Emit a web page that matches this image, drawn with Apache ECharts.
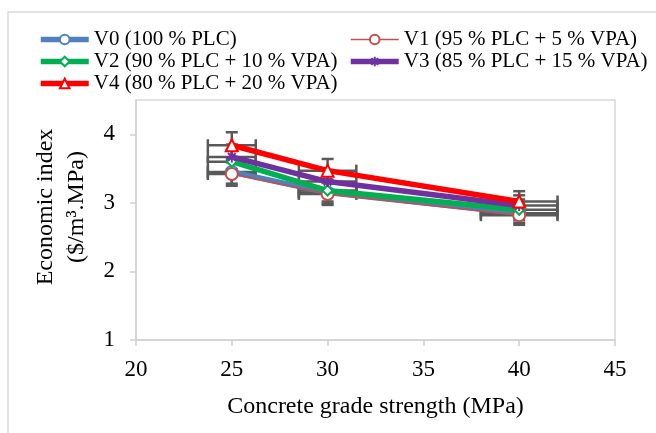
<!DOCTYPE html>
<html style="height: 100%">
<head>
    <meta charset="utf-8">
    <title>Economic index</title>
</head>
<body style="height: 100%; margin: 0; background: #fff">
    <div id="container" style="width: 656px; height: 433px"></div>
    <script src="https://cdn.jsdelivr.net/npm/echarts@6/dist/echarts.min.js"></script>
    <script type="text/javascript">
        // concrete grades (MPa) and their horizontal error
        var grades = [25, 30, 40];
        var gradeErr = [1.25, 1.5, 2];

        var names = [
            'V0 (100 % PLC)',
            'V1 (95 % PLC + 5 % VPA)',
            'V2 (90 % PLC + 10 % VPA)',
            'V3 (85 % PLC + 15 % VPA)',
            'V4 (80 % PLC + 20 % VPA)'
        ];

        // economic index ($/m3.MPa)
        var v0 = [3.45, 3.15, 2.85];
        var v1 = [3.42, 3.13, 2.82];
        var v2 = [3.60, 3.18, 2.90];
        var v3 = [3.67, 3.31, 2.96];
        var v4 = [3.84, 3.47, 3.02];

        // vertical error bars
        var v0Err = [0.17, 0.16, 0.14];
        var v1Err = [0.17, 0.16, 0.14];
        var v2Err = [0.18, 0.16, 0.15];
        var v3Err = [0.18, 0.17, 0.15];
        var v4Err = [0.19, 0.17, 0.15];

        var yTicks = [1, 2, 3, 4];

        var values = [v0, v1, v2, v3, v4];
        var errs = [v0Err, v1Err, v2Err, v3Err, v4Err];
        var colors = ['#4F81BD', '#C0504D', '#00B050', '#7030A0', '#FF0000'];
        var widths = [5.5, 1.5, 5.5, 5.5, 5.5];
        var symbols = ['emptyCircle', 'emptyCircle', 'emptyDiamond',
            'path://M0,5L10,5M5,0L5,10M1.5,1.5L8.5,8.5M8.5,1.5L1.5,8.5', 'emptyTriangle'];
        var sizes = [12, 12, 10, 11, 12];

        var font = '"Liberation Serif", "Times New Roman", serif';

        function renderErr(params, api) {
            var x = api.value(0), y = api.value(1), ex = api.value(2), ey = api.value(3);
            var l = api.coord([x - ex, y]), r = api.coord([x + ex, y]);
            var t = api.coord([x, y + ey]), b = api.coord([x, y - ey]);
            var h = 6;
            var st = {stroke: '#595959', lineWidth: 2.5, fill: null};
            function seg(x1, y1, x2, y2) {
                return {type: 'line', shape: {x1: x1, y1: y1, x2: x2, y2: y2}, style: st};
            }
            return {
                type: 'group',
                children: [
                    seg(l[0], l[1], r[0], r[1]),
                    seg(l[0], l[1] - h, l[0], l[1] + h),
                    seg(r[0], r[1] - h, r[0], r[1] + h),
                    seg(t[0], t[1], b[0], b[1]),
                    seg(t[0] - h, t[1], t[0] + h, t[1]),
                    seg(b[0] - h, b[1], b[0] + h, b[1])
                ]
            };
        }

        var series = [];
        values.forEach(function (vals, i) {
            series.push({
                name: names[i] + ' err',
                type: 'custom',
                renderItem: renderErr,
                encode: {x: 0, y: 1},
                z: 1,
                data: grades.map(function (g, k) {
                    return [g, vals[k], gradeErr[k], errs[i][k]];
                })
            });
        });
        values.forEach(function (vals, i) {
            series.push({
                name: names[i],
                type: 'line',
                z: 3 + i,
                symbol: symbols[i],
                symbolSize: sizes[i],
                lineStyle: {color: colors[i], width: widths[i]},
                itemStyle: i === 3
                    ? {color: colors[i], borderColor: colors[i], borderWidth: 2}
                    : {color: colors[i], borderWidth: 1.5},
                data: grades.map(function (g, k) { return [g, vals[k]]; })
            });
        });

        function legendItem(i) {
            return {name: names[i], lineStyle: {width: widths[i], color: colors[i]}};
        }

        var legendBase = {
            orient: 'vertical',
            top: 24,
            itemGap: 1,
            itemWidth: 48,
            itemHeight: 12,
            textStyle: {fontFamily: font, fontSize: 21, color: '#000', lineHeight: 21}
        };

        var dom = document.getElementById('container');
        var myChart = echarts.init(dom);
        var option = {
            animation: false,
            backgroundColor: '#fff',
            textStyle: {fontFamily: font},
            graphic: [
                {
                    type: 'rect',
                    shape: {x: 8, y: 12, width: 700, height: 500},
                    style: {stroke: '#D9D9D9', lineWidth: 1.5, fill: null},
                    silent: true
                },
                {
                    type: 'text',
                    x: 61,
                    y: 207,
                    rotation: Math.PI / 2,
                    style: {
                        text: 'Economic index\n($/m³.MPa)',
                        font: '24px ' + font,
                        fill: '#000',
                        textAlign: 'center',
                        textVerticalAlign: 'middle',
                        lineHeight: 31
                    }
                }
            ],
            legend: [
                Object.assign({}, legendBase, {left: 33, data: [legendItem(0), legendItem(2), legendItem(4)]}),
                Object.assign({}, legendBase, {left: 343, data: [legendItem(1), legendItem(3)]})
            ],
            grid: {
                left: 136, right: 41, top: 100, bottom: 93,
                show: true, borderColor: '#D9D9D9', borderWidth: 1.5
            },
            xAxis: {
                type: 'value',
                min: 20, max: 45, interval: 5,
                name: 'Concrete grade strength (MPa)',
                nameLocation: 'middle',
                nameGap: 55,
                nameTextStyle: {fontFamily: font, fontSize: 24, color: '#000'},
                axisLine: {lineStyle: {color: '#D0D0D0', width: 1.5}},
                axisTick: {length: 6, lineStyle: {color: '#D0D0D0', width: 1.5}},
                axisLabel: {fontFamily: font, fontSize: 23, color: '#000', margin: 18},
                splitLine: {show: false}
            },
            yAxis: {
                type: 'value',
                min: 1, max: 4.5, interval: 1,
                axisLine: {show: true, lineStyle: {color: '#D0D0D0', width: 1.5}},
                axisTick: {show: true, length: 6, customValues: yTicks,
                    lineStyle: {color: '#D0D0D0', width: 1.5}},
                axisLabel: {fontFamily: font, fontSize: 23, color: '#000', margin: 21,
                    customValues: yTicks},
                splitLine: {show: false}
            },
            series: series
        };
        myChart.setOption(option);
    </script>
</body>
</html>
